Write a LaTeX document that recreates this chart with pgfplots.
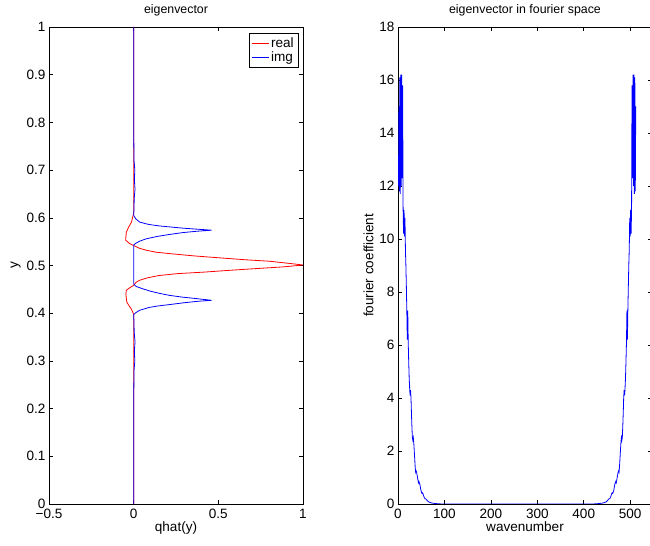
\documentclass[border=0pt]{standalone}
\usepackage{fontspec}
\setmainfont{Liberation Sans}
\usepackage{pgfplots}
\usepackage{pgfplotstable}
\pgfplotsset{compat=1.18}

\pgfplotsset{
  mlab/.style={
    scale only axis,
    width=254bp, height=477bp,
    tick align=inside,
    major tick length=4bp,
    axis line style={line width=0.6pt},
    every tick/.style={black, line width=0.5pt},
    tick label style={font=\fontsize{13.6}{15}\selectfont},
    label style={font=\fontsize{13.6}{15}\selectfont},
    title style={font=\fontsize{12.4}{14}\selectfont, yshift=1bp},
    /pgf/number format/assume math mode=true,
    xticklabel style={yshift=-1.5bp},
    xlabel style={yshift=4bp},
    ylabel style={yshift=-1bp},
  },
}

% real part of the eigenvector: y, qhat
\pgfplotstableread{
y q
0 0
0.39 0
0.397 0
0.403 -0.006
0.409 -0.014
0.416 -0.028
0.423 -0.04
0.43 -0.043
0.44 -0.046
0.448 -0.043
0.453 -0.025
0.4585 0
0.465 0.015
0.469 0.035
0.474 0.08
0.479 0.15
0.483 0.26
0.486 0.41
0.49 0.57
0.493 0.70
0.497 0.88
0.501 1.0
0.504 0.93
0.509 0.80
0.512 0.66
0.516 0.51
0.52 0.36
0.525 0.21
0.528 0.13
0.532 0.075
0.536 0.035
0.541 0.005
0.546 -0.024
0.553 -0.047
0.56 -0.046
0.57 -0.043
0.578 -0.033
0.584 -0.024
0.591 -0.013
0.598 -0.008
0.61 0
1 0
}\realpart

% imaginary part
\pgfplotstableread{
y q
0 0
0.2 0
0.28 0.002
0.3 0.007
0.32 0.004
0.34 0.008
0.36 0.003
0.38 0.002
0.397 0
0.401 0.012
0.406 0.035
0.412 0.09
0.415 0.14
0.418 0.21
0.422 0.30
0.425 0.38
0.427 0.46
0.429 0.41
0.431 0.36
0.434 0.28
0.4375 0.21
0.441 0.16
0.446 0.10
0.451 0.055
0.456 0.015
0.461 0
0.543 0
0.546 0.01
0.551 0.035
0.556 0.075
0.561 0.14
0.565 0.21
0.569 0.29
0.572 0.38
0.574 0.46
0.576 0.38
0.578 0.30
0.581 0.21
0.583 0.15
0.586 0.09
0.591 0.035
0.598 0.012
0.605 0
0.62 0.002
0.64 0.003
0.66 0.008
0.68 0.004
0.7 0.007
0.72 0.002
0.8 0
1 0
}\imagpart

% fourier coefficients, first half (mirrored for the second half)
\pgfplotstableread{
k v
1 12.0
2 15.0
3 11.8
4 16.1
5 11.7
6 16.2
7 12.0
8 16.2
9 12.3
10 15.8
11 11.1
12 10.2
13 11.1
14 10.1
15 10.8
16 9.6
17 9.0
18 8.2
19 7.3
20 6.2
21 7.3
22 6.1
23 5.4
24 4.8
25 4.4
26 4.1
27 4.3
28 4.0
29 3.4
30 2.9
31 2.5
32 2.4
33 2.5
34 2.3
35 2.0
36 1.7
37 1.4
38 1.2
39 1.25
40 1.2
41 1.1
42 1.0
43 0.9
44 0.8
45 0.85
46 0.8
47 0.75
48 0.65
49 0.55
50 0.48
51 0.42
52 0.4
53 0.42
54 0.38
55 0.32
56 0.27
57 0.23
58 0.2
59 0.2
60 0.19
62 0.15
64 0.11
66 0.08
70 0.05
75 0.03
80 0.02
85 0.01
90 0.005
95 0
257 0
}\fourier

\begin{document}
\begin{tikzpicture}
\path[use as bounding box] (-49bp,-42bp) rectangle (601bp,504bp);

% left: eigenvector
\begin{axis}[mlab, at={(0,0)}, anchor=south west,
  xmin=-0.5, xmax=1, ymin=0, ymax=1,
  xtick={-0.5,0,0.5,1}, xticklabels={−0.5,0,0.5,1},
  ytick={0,0.1,...,1}, yticklabels={0,0.1,0.2,0.3,0.4,0.5,0.6,0.7,0.8,0.9,1},
  title={eigenvector}, xlabel={qhat(y)}, ylabel={y},
  legend style={at={(0.98,0.987)}, anchor=north east, font=\fontsize{13.6}{15}\selectfont,
    inner sep=2bp, row sep=-1bp},
  legend cell align=left,
]
\addlegendimage{color=red, line width=1pt, line legend}
\addlegendentry{real}
\addlegendimage{color=blue, line width=1pt, line legend}
\addlegendentry{img}
\addplot[color=red, line width=0.8pt, forget plot] table[x=q, y=y] {\realpart};
\addplot[color=blue, line width=0.8pt, forget plot] table[x=q, y=y] {\imagpart};
\end{axis}

% right: eigenvector in fourier space
\begin{axis}[mlab, at={(349bp,0)}, anchor=south west,
  xmin=0, xmax=547, ymin=0, ymax=18,
  xtick={0,100,...,500}, ytick={0,2,...,18},
  title={eigenvector in fourier space}, xlabel={wavenumber}, ylabel={fourier coefficient},
]
\addplot[color=blue, line width=0.8pt] table[x=k, y=v] {\fourier};
\addplot[color=blue, line width=0.8pt, skip coords between index={0}{1}]
  table[x expr=514-\thisrow{k}, y=v] {\fourier};
\end{axis}
\end{tikzpicture}
\end{document}
